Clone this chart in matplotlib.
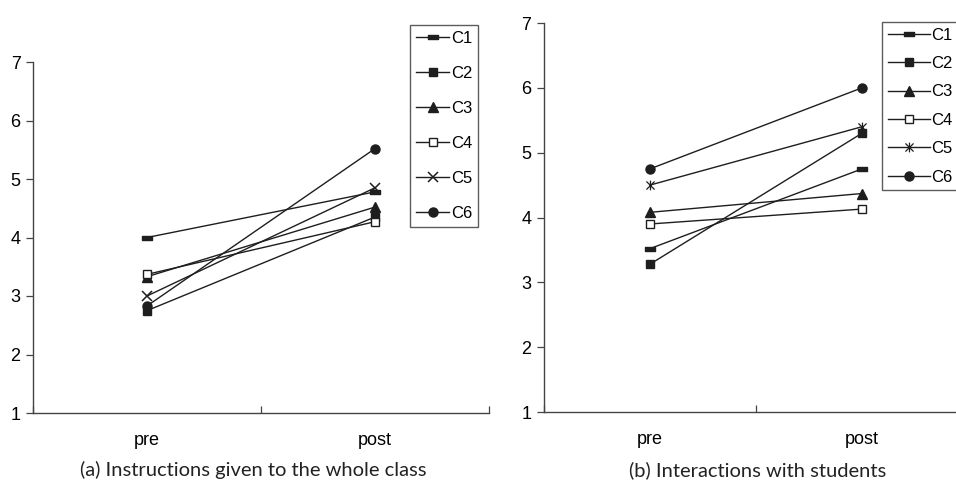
import numpy as np
import matplotlib
matplotlib.use('Agg')
import matplotlib.pyplot as plt
from matplotlib.path import Path

phases = ['pre', 'post']
series = ['C1', 'C2', 'C3', 'C4', 'C5', 'C6']

# (a) instructions given to the whole class
whole_class = {
    'C1': [4.00, 4.78],
    'C2': [2.75, 4.35],
    'C3': [3.33, 4.52],
    'C4': [3.37, 4.27],
    'C5': [3.00, 4.85],
    'C6': [2.83, 5.52],
}
# (b) interactions with students
interactions = {
    'C1': [3.52, 4.75],
    'C2': [3.28, 5.30],
    'C3': [4.08, 4.37],
    'C4': [3.90, 4.13],
    'C5': [4.50, 5.40],
    'C6': [4.75, 6.00],
}

captions = ['(a) Instructions given to the whole class',
            '(b) Interactions with students']

ink = '#1e1e1e'
dash = Path([(-1, -0.35), (1, -0.35), (1, 0.35), (-1, 0.35), (-1, -0.35)],
            [Path.MOVETO, Path.LINETO, Path.LINETO, Path.LINETO, Path.CLOSEPOLY])
star = Path([(-1, -1), (1, 1), (-1, 1), (1, -1), (0, -1.2), (0, 1.2)],
            [Path.MOVETO, Path.LINETO, Path.MOVETO, Path.LINETO, Path.MOVETO, Path.LINETO])

def styles(c5_marker):
    return {
        'C1': dict(marker=dash, ms=7, mfc=ink),
        'C2': dict(marker='s', ms=6, mfc=ink),
        'C3': dict(marker='^', ms=7, mfc=ink),
        'C4': dict(marker='s', ms=6, mfc='white', mew=1.0),
        'C5': c5_marker,
        'C6': dict(marker='o', ms=6.5, mfc=ink),
    }

plt.rcParams['font.family'] = ['Liberation Sans', 'DejaVu Sans']

fig = plt.figure(figsize=(9.56, 4.86), dpi=100)
ax_a = fig.add_axes([33 / 956, 1 - 413 / 486, 456 / 956, 351 / 486])
ax_b = fig.add_axes([544 / 956, 1 - 412 / 486, 424 / 956, 389 / 486])

panels = [
    (ax_a, whole_class, dict(marker='x', ms=7, mew=1.1), (410, 25), 1.2, 2.0),
    (ax_b, interactions, dict(marker=star, ms=7, mew=0.9), (882, 22), 0.8, 2.5),
]

x = np.arange(len(phases))
for ax, data, c5, corner, spacing, hlen in panels:
    st = styles(c5)
    for name in series:
        ax.plot(x, data[name], color=ink, lw=1.0, mec=ink, label=name, **st[name])
    ax.set_xlim(-0.5, 1.5)
    ax.set_ylim(1, 7)
    ax.set_yticks(range(1, 8))
    ax.set_xticks(x)
    ax.set_xticklabels(phases)
    ax.set_xticks([-0.5, 0.5, 1.5], minor=True)
    ax.tick_params(axis='x', which='major', length=0, pad=14, labelsize=13)
    ax.tick_params(axis='x', which='minor', direction='in', length=5, width=0.9, color='#444444')
    ax.tick_params(axis='y', direction='out', length=5, width=0.9, color='#444444',
                   pad=4, labelsize=13)
    for side in ['top', 'right']:
        ax.spines[side].set_visible(False)
    for side in ['left', 'bottom']:
        ax.spines[side].set_color('#444444')
        ax.spines[side].set_linewidth(1.0)
    leg = ax.legend(loc='upper left', bbox_to_anchor=(corner[0] / 956, 1 - corner[1] / 486),
                    bbox_transform=fig.transFigure, frameon=True, fancybox=False,
                    edgecolor='#333333', fontsize=12, handlelength=hlen, handletextpad=0.1,
                    labelspacing=spacing, borderpad=0.35, borderaxespad=0)
    leg.get_frame().set_linewidth(1.0)

fig.text(253 / 956, 1 - 470 / 486, captions[0], ha='center', va='center',
         fontsize=14.5, family=['Lato', 'DejaVu Sans'], color='#222222')
fig.text(758 / 956, 1 - 470 / 486, captions[1], ha='center', va='center',
         fontsize=14.5, family=['Lato', 'DejaVu Sans'], color='#222222')

fig.savefig('out.png', dpi=100)
